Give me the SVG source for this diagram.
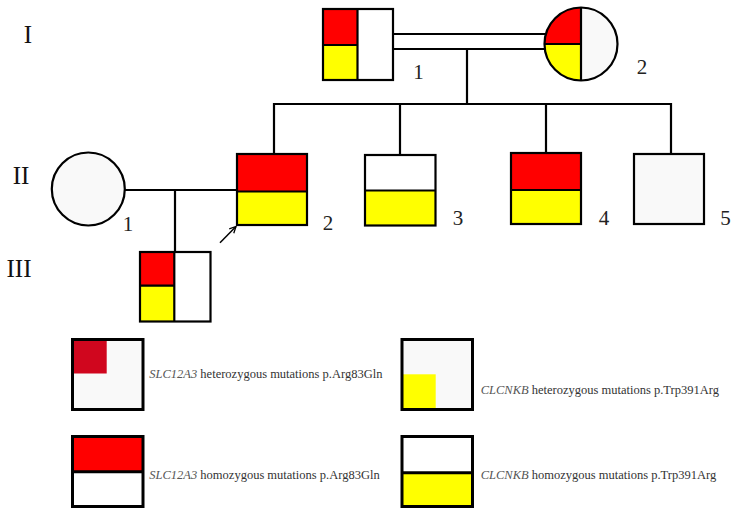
<svg xmlns="http://www.w3.org/2000/svg" width="735" height="518" viewBox="0 0 735 518">
<style>
.ln{fill:none;stroke:#000;stroke-width:2.2}
.lg{stroke:#000;stroke-width:3}
.red{fill:#ff0000}
.yel{fill:#ffff00}
.wht{fill:#ffffff}
.gry{fill:#f9f9f9}
.gen{font-family:"Liberation Serif","Times New Roman",serif;font-size:25px;fill:#111}
.num{font-family:"Liberation Serif","Times New Roman",serif;font-size:21px;fill:#222;text-anchor:middle}
.leg{font-family:"Liberation Serif","Times New Roman",serif;font-size:12.5px;fill:#333}
.leg tspan.it{font-style:italic;fill:#555}
</style>
<defs>
<marker id="arr" viewBox="0 0 10 10" refX="9" refY="5" markerWidth="8" markerHeight="8" markerUnits="userSpaceOnUse" orient="auto">
<path d="M1,1 L9,5 L1,9" fill="none" stroke="#000" stroke-width="1.6"/>
</marker>
</defs>
<rect width="735" height="518" fill="#ffffff"/>

<g id="generations">
<text class="gen" x="28" y="43" text-anchor="middle">I</text>
<text class="gen" x="21" y="184" text-anchor="middle">II</text>
<text class="gen" x="19" y="277" text-anchor="middle">III</text>
</g>

<g id="connectors">
<line class="ln" x1="393" y1="34" x2="547" y2="34"/>
<line class="ln" x1="393" y1="49" x2="547" y2="49"/>
<line class="ln" x1="467" y1="49" x2="467" y2="104"/>
<polyline class="ln" points="274,154 274,104 671,104 671,154"/>
<line class="ln" x1="400" y1="104" x2="400" y2="155"/>
<line class="ln" x1="546" y1="104" x2="546" y2="153"/>
<line class="ln" x1="125" y1="190" x2="237" y2="190"/>
<line class="ln" x1="175" y1="190" x2="175" y2="252"/>
<line x1="220" y1="242.7" x2="236" y2="226.5" stroke="#000" stroke-width="1.5" marker-end="url(#arr)"/>
</g>

<g id="I-1">
<rect class="wht" x="323" y="9" width="70" height="71"/>
<rect class="red" x="323" y="9" width="34.5" height="36"/>
<rect class="yel" x="323" y="45" width="34.5" height="35"/>
<rect class="ln" x="323" y="9" width="70" height="71"/>
<line class="ln" x1="357.5" y1="9" x2="357.5" y2="80"/>
<line class="ln" x1="323" y1="45" x2="357.5" y2="45"/>
<text class="num" x="418.5" y="79">1</text>
</g>

<g id="I-2">
<circle class="gry" cx="581" cy="44" r="36.5"/>
<path class="red" d="M581,44 L581,7.5 A36.5,36.5 0 0 0 544.5,44 Z"/>
<path class="yel" d="M581,44 L544.5,44 A36.5,36.5 0 0 0 581,80.5 Z"/>
<circle class="ln" cx="581" cy="44" r="36.5"/>
<line class="ln" x1="581" y1="7.5" x2="581" y2="80.5"/>
<line class="ln" x1="544.5" y1="44" x2="581" y2="44"/>
<text class="num" x="642" y="74">2</text>
</g>

<g id="II-1">
<circle class="gry" cx="88.3" cy="189" r="36.5"/>
<circle class="ln" cx="88.3" cy="189" r="36.5"/>
<text class="num" x="128" y="231">1</text>
</g>

<g id="II-2">
<rect class="red" x="237" y="154" width="70" height="37.5"/>
<rect class="yel" x="237" y="191.5" width="70" height="33.5"/>
<rect class="ln" x="237" y="154" width="70" height="71"/>
<line class="ln" x1="237" y1="191.5" x2="307" y2="191.5"/>
<text class="num" x="328" y="230">2</text>
</g>

<g id="II-3">
<rect class="wht" x="365" y="155" width="70.5" height="35.5"/>
<rect class="yel" x="365" y="190.5" width="70.5" height="35"/>
<rect class="ln" x="365" y="155" width="70.5" height="70.5"/>
<line class="ln" x1="365" y1="190.5" x2="435.5" y2="190.5"/>
<text class="num" x="458" y="225">3</text>
</g>

<g id="II-4">
<rect class="red" x="511" y="153" width="70" height="37"/>
<rect class="yel" x="511" y="190" width="70" height="34"/>
<rect class="ln" x="511" y="153" width="70" height="71"/>
<line class="ln" x1="511" y1="190" x2="581" y2="190"/>
<text class="num" x="604" y="225">4</text>
</g>

<g id="II-5">
<rect class="gry" x="634" y="154" width="70" height="70"/>
<rect class="ln" x="634" y="154" width="70" height="70"/>
<text class="num" x="725.5" y="225">5</text>
</g>

<g id="III-1">
<rect class="wht" x="140" y="252" width="70.5" height="69.5"/>
<rect class="red" x="140" y="252" width="34.3" height="33.7"/>
<rect class="yel" x="140" y="285.7" width="34.3" height="35.8"/>
<rect class="ln" x="140" y="252" width="70.5" height="69.5"/>
<line class="ln" x1="174.3" y1="252" x2="174.3" y2="321.5"/>
<line class="ln" x1="140" y1="285.7" x2="174.3" y2="285.7"/>
</g>

<g id="legend-SLC12A3-het">
<rect class="gry" x="72.5" y="339.5" width="70.5" height="70"/>
<rect fill="#d0061e" x="72.5" y="339.5" width="34.2" height="34"/>
<rect class="lg" fill="none" x="72.5" y="339.5" width="70.5" height="70"/>
<text class="leg" x="149.3" y="378"><tspan class="it">SLC12A3</tspan> heterozygous mutations p.Arg83Gln</text>
</g>

<g id="legend-SLC12A3-hom">
<rect class="red" x="72.5" y="436.5" width="70.5" height="35.3"/>
<rect class="wht" x="72.5" y="471.8" width="70.5" height="34.7"/>
<rect class="lg" fill="none" x="72.5" y="436.5" width="70.5" height="70"/>
<line class="lg" x1="72.5" y1="471.8" x2="143" y2="471.8"/>
<text class="leg" x="149.3" y="479.3"><tspan class="it">SLC12A3</tspan> homozygous mutations p.Arg83Gln</text>
</g>

<g id="legend-CLCNKB-het">
<rect class="gry" x="402" y="339.5" width="70.5" height="70"/>
<rect class="yel" x="402" y="374.3" width="33.7" height="35.2"/>
<rect class="lg" fill="none" x="402" y="339.5" width="70.5" height="70"/>
<text class="leg" x="480.7" y="394.3"><tspan class="it">CLCNKB</tspan> heterozygous mutations p.Trp391Arg</text>
</g>

<g id="legend-CLCNKB-hom">
<rect class="wht" x="402" y="436.5" width="70.5" height="36.2"/>
<rect class="yel" x="402" y="472.7" width="70.5" height="33.8"/>
<rect class="lg" fill="none" x="402" y="436.5" width="70.5" height="70"/>
<line class="lg" x1="402" y1="472.7" x2="472.5" y2="472.7"/>
<text class="leg" x="480.7" y="479.3"><tspan class="it">CLCNKB</tspan> homozygous mutations p.Trp391Arg</text>
</g>
</svg>
